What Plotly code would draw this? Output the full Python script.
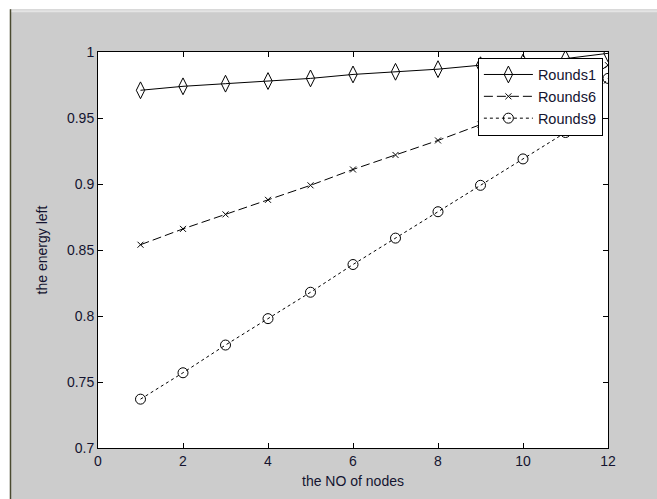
import plotly.graph_objects as go

nodes = [1, 2, 3, 4, 5, 6, 7, 8, 9, 10, 11, 12]
rounds1 = [0.971, 0.974, 0.976, 0.978, 0.980, 0.983, 0.985, 0.987, 0.990, 0.992, 0.995, 0.999]
rounds6 = [0.854, 0.866, 0.877, 0.888, 0.899, 0.911, 0.922, 0.933, 0.945, 0.956, 0.967, 0.990]
rounds9 = [0.737, 0.757, 0.778, 0.798, 0.818, 0.839, 0.859, 0.879, 0.899, 0.919, 0.939, 0.980]

x_ticks = [0, 2, 4, 6, 8, 10, 12]
y_ticks = [0.7, 0.75, 0.8, 0.85, 0.9, 0.95, 1]
y_tick_text = ["0.7", "0.75", "0.8", "0.85", "0.9", "0.95", "1"]

FONT = "Liberation Sans, Arial, sans-serif"
TXT = "#141430"

fig = go.Figure()
fig.add_trace(go.Scatter(x=nodes, y=rounds1, name="Rounds1", mode="lines+markers",
                         line=dict(color="black", width=1),
                         marker=dict(symbol="diamond-tall-open", size=12, color="black",
                                     line=dict(width=1, color="black"))))
fig.add_trace(go.Scatter(x=nodes, y=rounds6, name="Rounds6", mode="lines+markers",
                         line=dict(color="black", width=1, dash="9px,4px"),
                         marker=dict(symbol="x-thin-open", size=6, color="black",
                                     line=dict(width=1, color="black"))))
fig.add_trace(go.Scatter(x=nodes, y=rounds9, name="Rounds9", mode="lines+markers",
                         line=dict(color="black", width=1, dash="3px,3px"),
                         marker=dict(symbol="circle-open", size=10, color="black",
                                     line=dict(width=1, color="black"))))

axis_common = dict(showgrid=False, zeroline=False, showline=True, linecolor="black",
                   linewidth=1, mirror="ticks", ticks="inside", ticklen=5,
                   tickcolor="black", tickfont=dict(family=FONT, size=14, color=TXT))

fig.update_xaxes(range=[0, 12], tickvals=x_ticks,
                 title=dict(text="the NO of nodes", font=dict(family=FONT, size=14, color=TXT),
                            standoff=8),
                 **axis_common)
fig.update_yaxes(range=[0.7, 1.0], tickvals=y_ticks, ticktext=y_tick_text,
                 title=dict(text="the energy left", font=dict(family=FONT, size=14, color=TXT),
                            standoff=16),
                 **axis_common)

shapes = [
    dict(type="rect", xref="paper", yref="paper", x0=-0.25, x1=-0.1725, y0=-0.2, y1=1.2,
         fillcolor="white", line=dict(width=0), layer="below"),
    dict(type="rect", xref="paper", yref="paper", x0=-0.25, x1=1.2, y0=1.108, y1=1.2,
         fillcolor="white", line=dict(width=0), layer="below"),
    dict(type="line", xref="paper", yref="paper", x0=-0.1725, x1=1.2, y0=1.103, y1=1.103,
         line=dict(color="#e4e4e4", width=2)),
    dict(type="line", xref="paper", yref="paper", x0=-0.1716, x1=-0.1716, y0=-0.2, y1=1.108,
         line=dict(color="#4a4a30", width=1.5)),
]

fig.update_layout(
    width=657, height=499,
    margin=dict(l=98, r=49, t=52, b=49),
    paper_bgcolor="#cccccc", plot_bgcolor="white",
    shapes=shapes,
    showlegend=True,
    legend=dict(x=0.99, y=0.986, xanchor="right", yanchor="top",
                bgcolor="white", bordercolor="black", borderwidth=1,
                font=dict(family=FONT, size=14.5, color=TXT),
                itemwidth=49, tracegroupgap=0),
)

fig.write_html(
    "out.html",
    config={"displayModeBar": False},
    post_script="document.body.style.margin='0';document.body.style.overflow='hidden';",
)
